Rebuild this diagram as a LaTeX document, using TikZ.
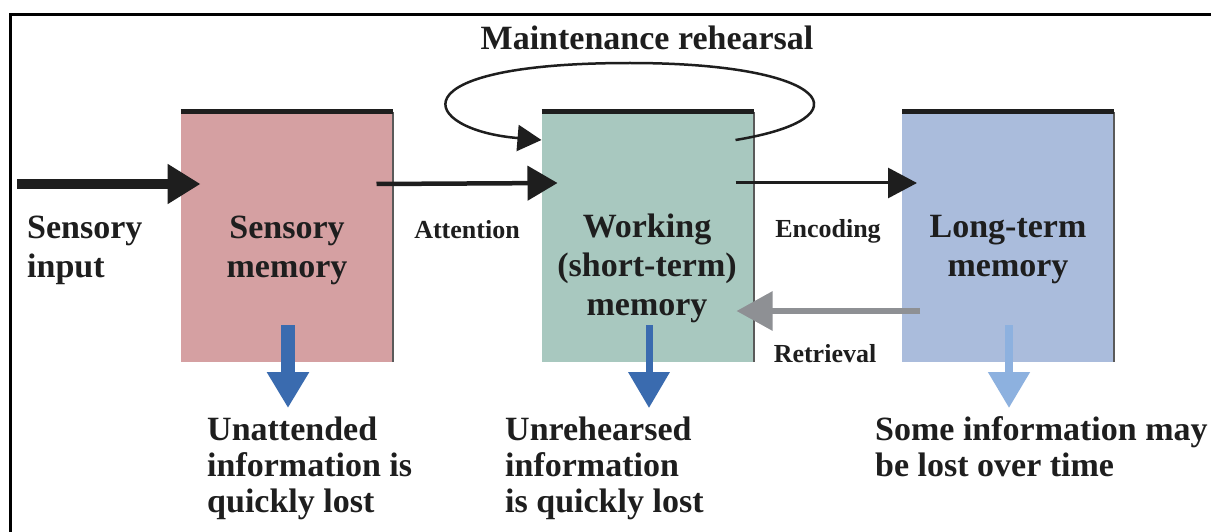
\documentclass[tikz,border=0pt]{standalone}
\usepackage{fontspec}
\setmainfont{Liberation Serif}
\usetikzlibrary{arrows.meta,calc}

\definecolor{sensfill}{HTML}{D5A0A2}
\definecolor{workfill}{HTML}{A8C8BF}
\definecolor{ltmfill}{HTML}{AABCDC}
\definecolor{lossdark}{HTML}{3A6BAF}
\definecolor{losslight}{HTML}{8DB1DF}
\definecolor{retrgray}{HTML}{8E9094}
\definecolor{ink}{HTML}{1E1E1E}
\definecolor{edgegray}{HTML}{5A5A5A}

\begin{document}
\begin{tikzpicture}[x=1pt,y=-1pt,
  store/.style={draw=none, minimum width=212pt, minimum height=250pt,
    inner sep=0pt, outer sep=0pt},
  bigtext/.style={font=\fontsize{34}{39}\selectfont\bfseries, inner sep=0pt,
    text=ink, align=center},
  losstext/.style={font=\fontsize{34}{36}\selectfont\bfseries, inner sep=0pt,
    text=ink, align=left, anchor=base west},
  smalltext/.style={font=\fontsize{26}{30}\selectfont\bfseries, inner sep=0pt,
    text=ink, anchor=base},
  topbar/.style={line width=5pt, draw=ink, line cap=butt},
  sideedge/.style={line width=2pt, draw=edgegray},
  inputarrow/.style={line width=10pt, draw=ink, -{Triangle[length=33pt,width=38pt]}},
  attnarrow/.style={line width=4.5pt, draw=ink, -{Triangle[length=30pt,width=34pt]}},
  encarrow/.style={line width=3pt, draw=ink, -{Triangle[length=29pt,width=30pt]}},
  retrarrow/.style={line width=6pt, draw=retrgray, -{Triangle[length=36pt,width=38pt]}},
  looparrow/.style={line width=2.5pt, draw=ink, -{Triangle[length=24pt,width=26pt]}},
  lossarrow/.style={-{Triangle[length=36pt,width=40pt]}},
]
\useasboundingbox (0,0) rectangle (1211,532);
\fill[white] (0,0) rectangle (1211,532);

% outer frame (left and top sides)
\draw[line width=3pt, draw=black] (10,532) -- (10,15) -- (1211,15);

% the three memory stores
\node[store, fill=sensfill] (sens) at (286.5,237) {};
\node[store, fill=workfill] (work) at (647.5,237) {};
\node[store, fill=ltmfill]  (ltm)  at (1008,237) {};
\foreach \s in {sens,work,ltm}{
  \draw[sideedge] (\s.north east) -- (\s.south east);
  \draw[topbar] (\s.north west) -- (\s.north east);
}

% store labels (anchored on the baseline of their last line)
\node[bigtext, anchor=base] (senslbl) at (287,277) {Sensory\\memory};
\node[bigtext, anchor=base] (worklbl) at (647,315) {Working\\(short-term)\\memory};
\node[bigtext, anchor=base] (ltmlbl)  at (1008,276) {Long-term\\memory};

% incoming sensory input
\node[bigtext, align=left, anchor=base west] (input) at (27,277) {Sensory\\input};
\coordinate (inputstart) at (17,184);
\draw[inputarrow] (inputstart) -- ($(sens.north west)+(20,72)$);

% attention: sensory -> working
\draw[attnarrow] ($(sens.north east)+(-16,72)$) -- ($(work.north west)+(16,71)$);
\node[smalltext] (attn) at (467,238) {Attention};

% encoding: working -> long-term
\draw[encarrow] ($(work.north east)+(-18,71)$) -- ($(ltm.north west)+(15,71)$);
\node[smalltext] (enc) at (828,237) {Encoding};

% retrieval: long-term -> working
\draw[retrarrow] ($(ltm.north west)+(18,199)$) -- ($(work.north east)+(-17,199)$);
\node[smalltext] (retr) at (825,362) {Retrieval};

% maintenance rehearsal loop on working memory
\coordinate (loopout) at ($(work.north east)+(-18,28)$);
\coordinate (looptop) at (630,63);
\coordinate (loopin)  at ($(work.north west)+(0,28)$);
\draw[looparrow] (loopout) .. controls (870,118) and (830,63) .. (looptop)
  .. controls (390,63) and (420,130) .. (loopin);
\node[bigtext, anchor=base] (maint) at (647,50) {Maintenance rehearsal};

% information lost from each store
\coordinate (sensdrop) at ($(sens.south)+(1.5,-37)$);
\coordinate (senslost) at ($(sens.south)+(1.5,46)$);
\coordinate (workdrop) at ($(work.south)+(1.5,-37)$);
\coordinate (worklost) at ($(work.south)+(1.5,46)$);
\coordinate (ltmdrop)  at ($(ltm.south)+(1,-37)$);
\coordinate (ltmlost)  at ($(ltm.south)+(1,46)$);
\draw[lossarrow, line width=14pt, draw=lossdark, fill=lossdark] (sensdrop) -- (senslost);
\draw[lossarrow, line width=7pt, draw=lossdark, fill=lossdark] (workdrop) -- (worklost);
\draw[lossarrow, line width=8pt, draw=losslight, fill=losslight] (ltmdrop) -- (ltmlost);

\node[losstext] (lost1) at (207,512) {Unattended\\information is\\quickly lost};
\node[losstext] (lost2) at (505,512) {Unrehearsed\\information\\is quickly lost};
\node[losstext] (lost3) at (875,476) {Some information may\\be lost over time};
\end{tikzpicture}
\end{document}
